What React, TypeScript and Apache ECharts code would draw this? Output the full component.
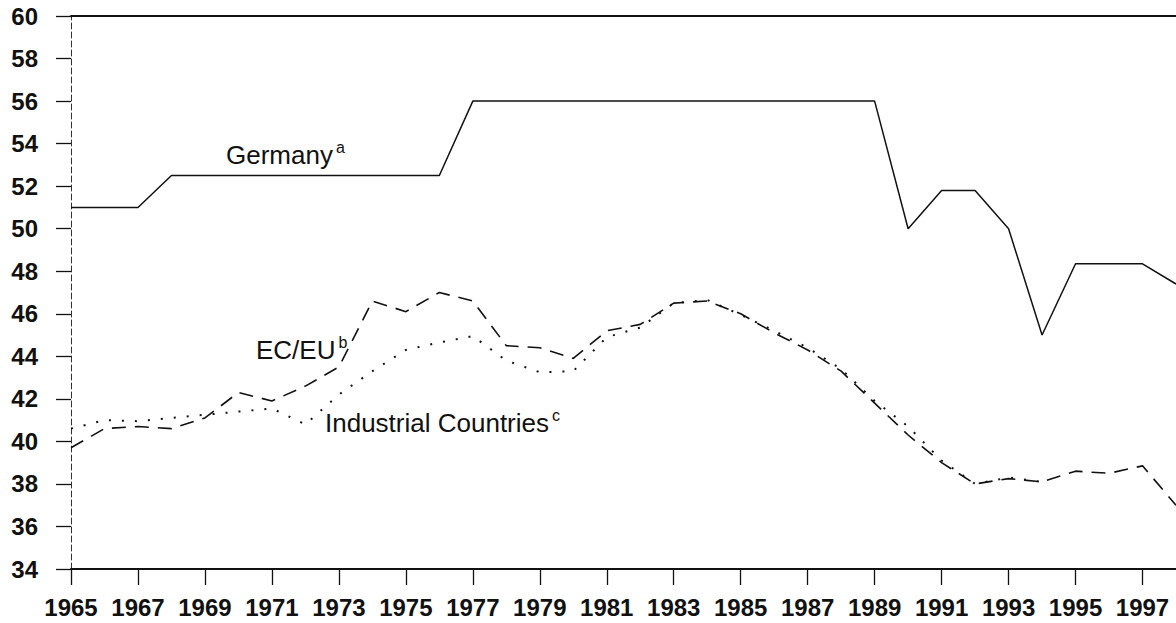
import React, { useEffect, useRef } from "react";
import * as echarts from "echarts";

const years: string[] = [
  "1965","1966","1967","1968","1969","1970","1971","1972","1973","1974","1975","1976",
  "1977","1978","1979","1980","1981","1982","1983","1984","1985","1986","1987","1988",
  "1989","1990","1991","1992","1993","1994","1995","1996","1997","1998",
];

const germany: number[] = [
  51, 51, 51, 52.5, 52.5, 52.5, 52.5, 52.5, 52.5, 52.5, 52.5, 52.5,
  56, 56, 56, 56, 56, 56, 56, 56, 56, 56, 56, 56,
  56, 50, 51.8, 51.8, 50, 45, 48.35, 48.35, 48.35, 47.4,
];

const ecEu: number[] = [
  39.7, 40.6, 40.7, 40.6, 41.1, 42.3, 41.9, 42.6, 43.5, 46.6, 46.1, 47.0,
  46.6, 44.5, 44.4, 43.9, 45.2, 45.5, 46.5, 46.6, 46.0, 45.1, 44.3, 43.3,
  41.8, 40.3, 39.0, 38.0, 38.25, 38.1, 38.6, 38.5, 38.85, 37.0,
];

const industrial: number[] = [
  40.6, 41.0, 40.95, 41.1, 41.25, 41.4, 41.55, 40.8, 42.2, 43.3, 44.3, 44.65,
  44.95, 43.8, 43.25, 43.3, 44.9, 45.35, 46.5, 46.65, 45.95, 45.2, 44.4, 43.4,
  41.9, 40.7, 39.1, 38.0, 38.3, 38.1,
];

const seriesLabels = [
  { name: "Germany", note: "a" },
  { name: "EC/EU", note: "b" },
  { name: "Industrial Countries", note: "c" },
];

const yMin = 34;
const yMax = 60;
const yStep = 2;

const FONT = "'Liberation Sans', Arial, Helvetica, sans-serif";
const INK = "#111";

export default function App() {
  const ref = useRef<HTMLDivElement>(null);
  useEffect(() => {
    if (!ref.current) return;
    const chart = echarts.init(ref.current, undefined, { renderer: "svg" });
    const labelText = (idx: number, x: number, y: number) => ({
      type: "text",
      x,
      y,
      silent: true,
      style: {
        text: `{n|${seriesLabels[idx].name}}{s|${seriesLabels[idx].note}}`,
        fill: INK,
        verticalAlign: "middle",
        align: "left",
        rich: {
          n: { fontFamily: FONT, fontSize: 26, color: INK, lineHeight: 32, verticalAlign: "middle" },
          s: { fontFamily: FONT, fontSize: 16, color: INK, lineHeight: 16, verticalAlign: "top", padding: [0, 0, 0, 3] },
        },
      },
    });
    chart.setOption({
      animation: false,
      backgroundColor: "#fff",
      grid: { left: 71, right: -5, top: 16, bottom: 54, containLabel: false },
      xAxis: [
        {
          type: "category",
          data: years,
          boundaryGap: false,
          position: "bottom",
          axisLine: { show: true, lineStyle: { color: INK, width: 2 } },
          axisTick: { show: true, inside: false, length: 16, interval: 1, lineStyle: { color: INK, width: 1.3 } },
          axisLabel: {
            interval: 1,
            margin: 26,
            color: INK,
            fontFamily: FONT,
            fontWeight: "bold",
            fontSize: 24,
          },
          splitLine: { show: false },
        },
        {
          type: "category",
          data: years,
          boundaryGap: false,
          position: "top",
          axisLine: { show: true, lineStyle: { color: INK, width: 2 } },
          axisTick: { show: false },
          axisLabel: { show: false },
          splitLine: { show: false },
        },
      ],
      yAxis: {
        type: "value",
        min: yMin,
        max: yMax,
        interval: yStep,
        axisLine: { show: true, lineStyle: { color: "#333", width: 1, type: [6, 3] } },
        axisTick: { show: true, inside: false, length: 15, lineStyle: { color: INK, width: 1.3 } },
        axisLabel: {
          margin: 33,
          color: INK,
          fontFamily: FONT,
          fontWeight: "bold",
          fontSize: 24,
        },
        splitLine: { show: false },
      },
      series: [
        {
          name: "Germany",
          type: "line",
          data: germany,
          symbol: "none",
          lineStyle: { color: INK, width: 1.5, type: "solid" },
        },
        {
          name: "EC/EU",
          type: "line",
          data: ecEu,
          symbol: "none",
          lineStyle: { color: INK, width: 1.6, type: [14, 9] },
        },
        {
          name: "Industrial Countries",
          type: "line",
          data: industrial,
          symbol: "none",
          lineStyle: { color: INK, width: 2, type: [2, 11] },
        },
      ],
      graphic: [
        labelText(0, 226, 155),
        labelText(1, 256, 350),
        labelText(2, 325, 423),
      ],
    });
    return () => chart.dispose();
  }, []);
  return (
    <div
      ref={ref}
      style={{ position: "absolute", left: 0, top: 0, width: 1176, height: 623, background: "#fff" }}
    />
  );
}
